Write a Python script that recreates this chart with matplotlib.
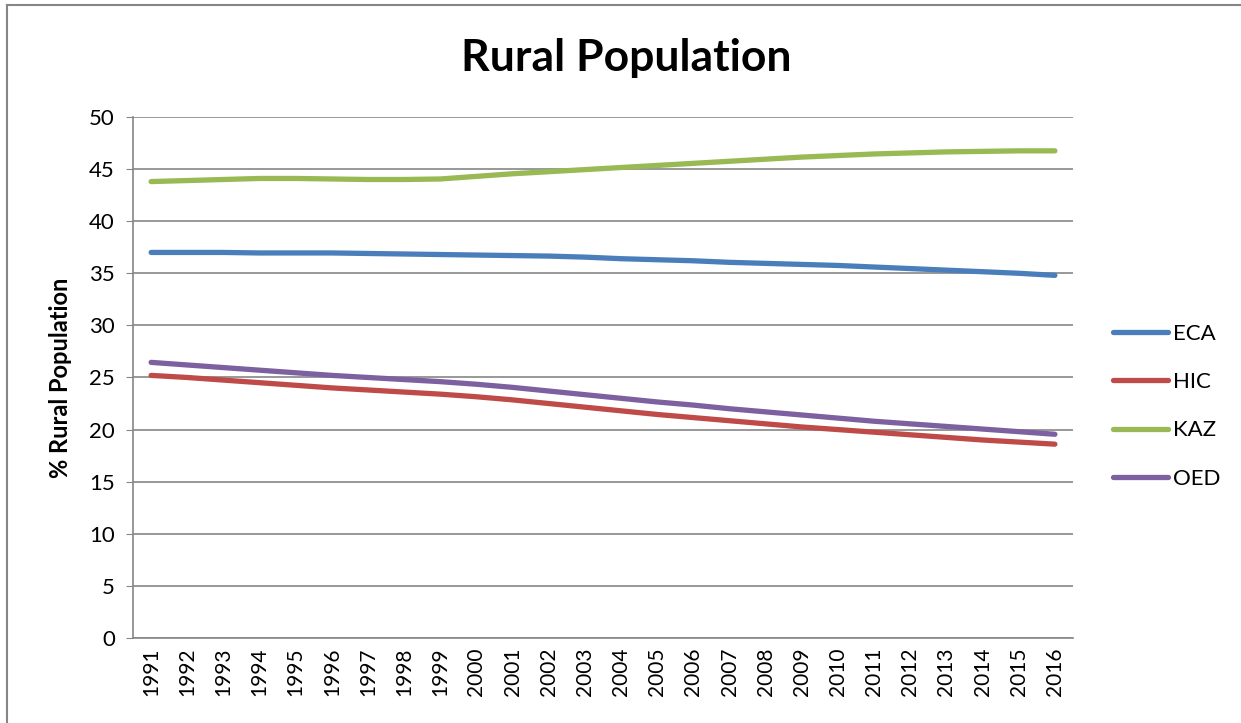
import matplotlib.pyplot as plt
import numpy as np

# données
years = list(range(1991, 2017))
eca = [37.0, 37.0, 37.0, 36.95, 36.95, 36.95, 36.9, 36.85, 36.8, 36.75, 36.7, 36.65, 36.55,
       36.4, 36.3, 36.2, 36.05, 35.95, 35.85, 35.75, 35.6, 35.45, 35.3, 35.15, 35.0, 34.8]
hic = [25.2, 25.0, 24.75, 24.5, 24.25, 24.0, 23.8, 23.6, 23.4, 23.15, 22.85, 22.5, 22.15,
       21.8, 21.45, 21.15, 20.85, 20.55, 20.25, 20.0, 19.75, 19.5, 19.25, 19.0, 18.8, 18.6]
kaz = [43.8, 43.9, 44.0, 44.1, 44.1, 44.05, 44.0, 44.0, 44.05, 44.3, 44.55, 44.75, 44.95,
       45.15, 45.35, 45.55, 45.75, 45.95, 46.15, 46.3, 46.45, 46.55, 46.65, 46.7, 46.75, 46.75]
oed = [26.45, 26.2, 25.95, 25.7, 25.45, 25.2, 25.0, 24.8, 24.6, 24.35, 24.05, 23.7, 23.35,
       23.0, 22.65, 22.35, 22.0, 21.7, 21.4, 21.1, 20.8, 20.55, 20.3, 20.05, 19.8, 19.55]
series = {'ECA': eca, 'HIC': hic, 'KAZ': kaz, 'OED': oed}
colors = {'ECA': '#4A7EBB', 'HIC': '#BE4B48', 'KAZ': '#98B954', 'OED': '#7D60A0'}

plt.rcParams['font.family'] = ['Lato', 'DejaVu Sans']

fig = plt.figure(figsize=(12.41, 7.23), dpi=100)
ax = fig.add_axes([0.1072, 0.1176, 0.7574, 0.7206])

x = np.arange(len(years))
for name, vals in series.items():
    ax.plot(x, vals, color=colors[name], lw=3.8, solid_capstyle='round', label=name)

ax.set_xlim(-0.5, len(years) - 0.5)
ax.set_ylim(0, 50)
ax.set_yticks(range(0, 51, 5))
ax.set_xticks(x)
ax.set_xticklabels([str(y) for y in years], rotation=90, fontsize=15)
ax.tick_params(axis='y', labelsize=16, length=5, color='#868686', pad=8)
ax.tick_params(axis='x', length=0, pad=7)
ax.grid(axis='y', color='#868686', lw=1.2)
ax.set_axisbelow(True)
for s in ['top', 'right']:
    ax.spines[s].set_visible(False)
for s in ['left', 'bottom']:
    ax.spines[s].set_color('#868686')
    ax.spines[s].set_linewidth(1.2)

ax.set_ylabel('% Rural Population', fontsize=17, fontweight='bold')
ax.yaxis.set_label_coords(-0.065, 0.5)
fig.text(0.5045, 0.92, 'Rural Population', ha='center', va='center',
         fontsize=32, fontweight='bold')

fig.legend(loc='center left', bbox_to_anchor=(0.881, 0.438), frameon=False,
           fontsize=16, handlelength=2.45, handletextpad=0.25, labelspacing=1.27)

# cadre extérieur
fig.add_artist(plt.Line2D([0.0056, 0.0056], [0, 0.993], color='#868686', lw=1.5))
fig.add_artist(plt.Line2D([0.0056, 1], [0.993, 0.993], color='#868686', lw=1.5))

fig.savefig('out.png', dpi=100)
